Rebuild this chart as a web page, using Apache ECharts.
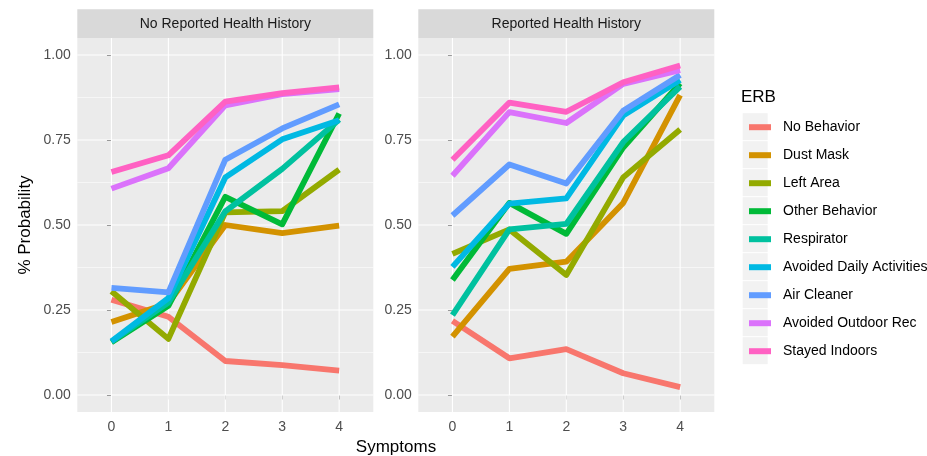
<!DOCTYPE html>
<html><head><meta charset="utf-8">
<script src="https://cdn.jsdelivr.net/npm/echarts@6/dist/echarts.min.js"></script>
<style>html,body{margin:0;padding:0;background:#fff}#c{width:927px;height:456px}</style>
</head><body><div id="c"></div>
<script>
// ---- data ----
const symptoms = [0, 1, 2, 3, 4];
const yTicks = [0, 0.25, 0.5, 0.75, 1];
const yMinor = [0.125, 0.375, 0.625, 0.875];
const panelTitles = ['No Reported Health History', 'Reported Health History'];
const erb = ['No Behavior', 'Dust Mask', 'Left Area', 'Other Behavior', 'Respirator',
  'Avoided Daily Activities', 'Air Cleaner', 'Avoided Outdoor Rec', 'Stayed Indoors'];

// No Reported Health History
const nrNoBehavior     = [0.280, 0.230, 0.100, 0.088, 0.072];
const nrDustMask       = [0.215, 0.270, 0.500, 0.476, 0.498];
const nrLeftArea       = [0.305, 0.165, 0.537, 0.541, 0.663];
const nrOtherBehavior  = [0.155, 0.262, 0.583, 0.502, 0.828];
const nrRespirator     = [0.157, 0.272, 0.540, 0.665, 0.810];
const nrAvoidedDaily   = [0.158, 0.285, 0.640, 0.752, 0.808];
const nrAirCleaner     = [0.315, 0.302, 0.692, 0.784, 0.855];
const nrAvoidedOutdoor = [0.607, 0.667, 0.852, 0.885, 0.900];
const nrStayedIndoors  = [0.656, 0.705, 0.863, 0.888, 0.905];

// Reported Health History
const rpNoBehavior     = [0.218, 0.108, 0.135, 0.064, 0.023];
const rpDustMask       = [0.172, 0.371, 0.392, 0.565, 0.882];
const rpLeftArea       = [0.415, 0.487, 0.353, 0.640, 0.781];
const rpOtherBehavior  = [0.338, 0.565, 0.474, 0.728, 0.917];
const rpRespirator     = [0.235, 0.487, 0.503, 0.744, 0.907];
const rpAvoidedDaily   = [0.377, 0.563, 0.578, 0.822, 0.926];
const rpAirCleaner     = [0.528, 0.678, 0.622, 0.836, 0.941];
const rpAvoidedOutdoor = [0.645, 0.832, 0.800, 0.915, 0.955];
const rpStayedIndoors  = [0.692, 0.860, 0.833, 0.920, 0.969];

// ---- style ----
const colors = ['#F8766D', '#D39200', '#93AA00', '#00BA38', '#00C19F', '#00B9E3', '#619CFF', '#DB72FB', '#FF61C3'];
const FONT = '"Liberation Sans", Arial, Helvetica, sans-serif';

const panelSeries = [
  [nrNoBehavior, nrDustMask, nrLeftArea, nrOtherBehavior, nrRespirator, nrAvoidedDaily, nrAirCleaner, nrAvoidedOutdoor, nrStayedIndoors],
  [rpNoBehavior, rpDustMask, rpLeftArea, rpOtherBehavior, rpRespirator, rpAvoidedDaily, rpAirCleaner, rpAvoidedOutdoor, rpStayedIndoors]
];

const panelLeft = [77.3, 418.3];
const panelW = 296, gridTop = 38, gridH = 374;
const X_MIN = -0.6, X_MAX = 4.6, Y_MIN = -0.05, Y_MAX = 1.05;

const grids = [], xAxes = [], yAxes = [], series = [], graphics = [];

function gridLine(p, pts, w) {
  series.push({ type: 'line', name: '_g', xAxisIndex: p, yAxisIndex: p, z: 1, silent: true,
    symbol: 'none', showSymbol: false, clip: false,
    lineStyle: { color: '#FFFFFF', width: w, type: 'solid' },
    data: pts });
}

panelLeft.forEach((L, p) => {
  grids.push({ left: L, top: gridTop, width: panelW, height: gridH, show: true,
    backgroundColor: '#EBEBEB', borderWidth: 0, containLabel: false });
  xAxes.push({ gridIndex: p, type: 'value', min: X_MIN, max: X_MAX,
    axisLine: { show: false },
    axisTick: { show: true, customValues: symptoms, length: 4.5, lineStyle: { color: '#333333', width: 1 } },
    axisLabel: { customValues: symptoms, margin: 8, color: '#4D4D4D', fontSize: 14, fontFamily: FONT },
    splitLine: { show: false } });
  yAxes.push({ gridIndex: p, type: 'value', min: Y_MIN, max: Y_MAX,
    axisLine: { show: false },
    axisTick: { show: true, customValues: yTicks, length: 4.5, lineStyle: { color: '#333333', width: 1 } },
    axisLabel: { customValues: yTicks, margin: 6.5, color: '#4D4D4D', fontSize: 14, fontFamily: FONT,
      padding: [3, 0, 0, 0],
      formatter: v => Number(v).toFixed(2) },
    splitLine: { show: false } });

  yMinor.forEach(v => gridLine(p, [[X_MIN, v], [X_MAX, v]], 0.55));
  yTicks.forEach(v => gridLine(p, [[X_MIN, v], [X_MAX, v]], 1.1));
  symptoms.forEach(v => gridLine(p, [[v, Y_MIN], [v, Y_MAX]], 1.1));

  panelSeries[p].forEach((vals, k) => {
    series.push({ type: 'line', name: erb[k], xAxisIndex: p, yAxisIndex: p, z: 3,
      color: colors[k], symbol: 'none', showSymbol: false, silent: true,
      lineStyle: { width: 5.8, color: colors[k], cap: 'butt', join: 'round' },
      data: symptoms.map((x, j) => [x, vals[j]]) });
  });

  graphics.push({ type: 'rect', shape: { x: L, y: 9.3, width: panelW, height: gridTop - 9.3 },
    style: { fill: '#D9D9D9' }, z: 0 });
  graphics.push({ type: 'text', x: L + panelW / 2, y: (9.3 + gridTop) / 2,
    style: { text: panelTitles[p], fill: '#1A1A1A', fontSize: 14, fontFamily: FONT,
      textAlign: 'center', textVerticalAlign: 'middle', align: 'center', verticalAlign: 'middle' } });
});

// legend title and key backgrounds
const keyTop = 112.7, legStep = 28;
graphics.push({ type: 'text', x: 741, y: 97,
  style: { text: 'ERB', fill: '#000000', fontSize: 17, fontFamily: FONT,
    textAlign: 'left', textVerticalAlign: 'middle', align: 'left', verticalAlign: 'middle' } });
erb.forEach((n, i) => {
  graphics.push({ type: 'rect', shape: { x: 742.7, y: keyTop + i * legStep + 0.5, width: 25, height: legStep - 1 },
    style: { fill: '#F2F2F2' }, z: -1 });
});
// axis titles
graphics.push({ type: 'text', x: 396, y: 447.5,
  style: { text: 'Symptoms', fill: '#000000', fontSize: 17, fontFamily: FONT,
    textAlign: 'center', textVerticalAlign: 'middle', align: 'center', verticalAlign: 'middle' } });
graphics.push({ type: 'text', x: 25, y: 225, rotation: Math.PI / 2,
  style: { text: '% Probability', fill: '#000000', fontSize: 17, fontFamily: FONT,
    textAlign: 'center', textVerticalAlign: 'middle', align: 'center', verticalAlign: 'middle' } });

const chart = echarts.init(document.getElementById('c'), null, { renderer: 'canvas' });
chart.setOption({
  animation: false,
  backgroundColor: '#FFFFFF',
  grid: grids, xAxis: xAxes, yAxis: yAxes, series: series,
  legend: { orient: 'vertical', left: 744, top: keyTop - 4.5, itemWidth: 22, itemHeight: 6, itemGap: 0,
    icon: 'rect', data: erb, selectedMode: false,
    textStyle: { fontSize: 14, color: '#000000', fontFamily: FONT, lineHeight: legStep, padding: [0, 0, 0, 7] } },
  graphic: { elements: graphics }
});
</script>
</body></html>
